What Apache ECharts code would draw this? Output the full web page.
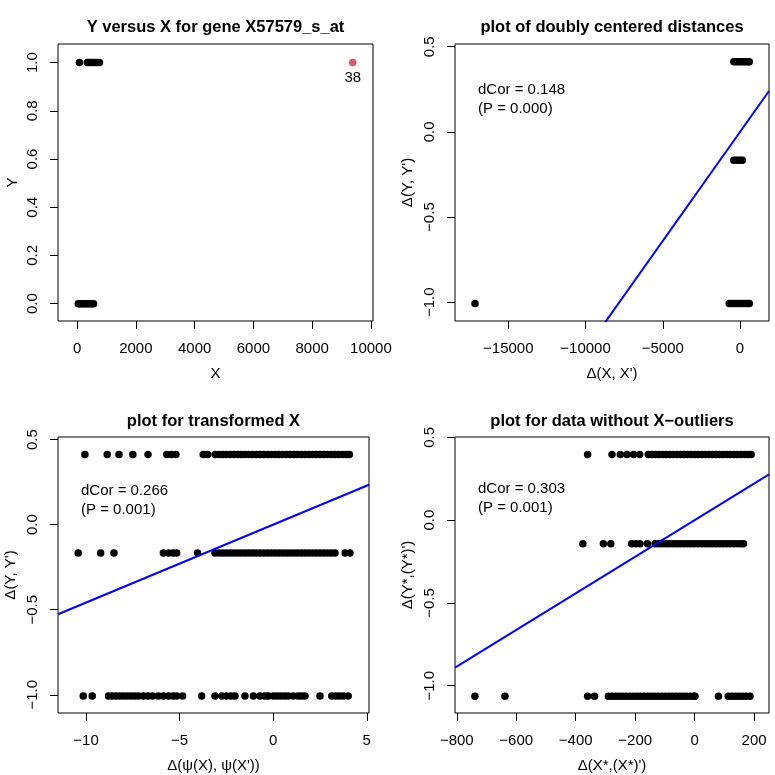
<!DOCTYPE html>
<html>
<head>
<meta charset="utf-8">
<script src="https://cdn.jsdelivr.net/npm/echarts@6/dist/echarts.min.js"></script>
<style>
  html, body { margin: 0; padding: 0; background: #fff; }
  #chart { width: 775px; height: 775px; }
</style>
</head>
<body>
<div id="chart"></div>
<script>
// panel 1: raw data, X values at Y = 1 and Y = 0, plus case 38
var p1High = [80, 350, 410, 470, 530, 600, 680, 760];
var p1Low = [40, 90, 140, 200, 260, 320, 380, 440, 500, 560];
var p1Outlier = [9380, 1];
var p1OutlierLabel = '38';

// doubly centered distances of Y (levels shared by panels 2 and 3)
var dyLevels = [0.412, -0.167, -1.007];

// panel 2: delta(X, X') per Y level
var p2Top = [-400, -250, -100, 50, 200, 350, 500, 600];
var p2Mid = [-400, -250, -100, 50, 150];
var p2Bot = [-17155, -700, -550, -400, -250, -100, 50, 200, 350, 500, 600];

// panel 3: delta(psi(X), psi(X')) per Y level
var p3Top = [-10.06, -8.87, -8.24, -7.5, -6.69, -5.69, -5.45, -5.2, -3.74, -3.5,
  -3.1, -2.9, -2.7, -2.5, -2.3, -2.1, -1.9, -1.7, -1.5, -1.3, -1.1, -0.9, -0.7, -0.5,
  -0.3, -0.1, 0.1, 0.3, 0.5, 0.7, 0.9, 1.1, 1.3, 1.5, 1.7, 1.9, 2.1, 2.3, 2.5, 2.7,
  2.9, 3.1, 3.3, 3.5, 3.7, 3.9, 4.07];
var p3Mid = [-10.42, -9.22, -8.51, -5.87, -5.6, -5.35, -5.16, -4.04,
  -3.11, -2.9, -2.7, -2.5, -2.3, -2.1, -1.9, -1.7, -1.5, -1.3, -1.1, -0.9, -0.7, -0.5,
  -0.3, -0.1, 0.1, 0.3, 0.5, 0.7, 0.9, 1.1, 1.3, 1.5, 1.7, 1.9, 2.1, 2.3, 2.5,
  2.7, 2.9, 3.1, 3.3, 3.85, 4.1];
var p3Bot = [-10.15, -9.67, -8.8, -8.6, -8.4, -8.2, -8.0, -7.8, -7.6, -7.4, -7.2,
  -6.94, -6.7, -6.45, -6.14, -5.87, -5.6, -5.35, -5.16, -4.84, -3.82, -3.11, -2.75,
  -2.5, -2.25, -2.04, -1.51, -1.06, -0.71, -0.45, -0.26, 0.0, 0.2, 0.4, 0.6, 0.8,
  1.07, 1.34, 1.52, 1.7, 2.5, 3.13, 3.35, 3.55, 3.75, 4.01];

// panel 4: data without X-outliers
var p4Levels = [0.397, -0.143, -1.064];
var p4Top = [-360, -278, -250, -228, -205, -185, -156, -144, -132, -120, -108, -96,
  -84, -72, -60, -48, -36, -24, -12, 0, 12, 24, 36, 48, 60, 72, 84, 96, 108, 120,
  132, 144, 156, 168, 180, 190];
var p4Mid = [-376, -307, -282, -212, -198, -184, -159, -133, -121, -109, -97, -85,
  -73, -61, -49, -37, -25, -13, -1, 11, 23, 35, 47, 59, 71, 83, 95, 107, 119, 131,
  143, 155, 164];
var p4Bot = [-739, -638, -360, -337, -290, -278, -266, -254, -242, -230, -218, -206,
  -194, -182, -170, -158, -146, -134, -122, -110, -98, -86, -74, -62, -50, -38, -26,
  -14, -2, 1, 80, 113, 125, 137, 149, 161, 173, 186];

// fitted line slopes (through origin) and dCor statistics
var slopes = [0.000128, 0.0458, 0.001105];
var dcorText = [['dCor = 0.148', '(P = 0.000)'], ['dCor = 0.266', '(P = 0.001)'], ['dCor = 0.303', '(P = 0.001)']];

var titles = ['Y versus X for gene X57579_s_at', 'plot of doubly centered distances',
  'plot for transformed X', 'plot for data without X\u2212outliers'];
var xNames = ['X', '\u0394(X, X\')', '\u0394(\u03c8(X), \u03c8(X\'))', '\u0394(X*,(X*)\')'];
var yNames = ['Y', '\u0394(Y, Y\')', '\u0394(Y, Y\')', '\u0394(Y*,(Y*)\')'];

var xTicks = [[0, 2000, 4000, 6000, 8000, 10000], [-15000, -10000, -5000, 0], [-10, -5, 0, 5],
  [-800, -600, -400, -200, 0, 200]];
var yTicks = [[0, 0.2, 0.4, 0.6, 0.8, 1.0], [-1, -0.5, 0, 0.5], [-1, -0.5, 0, 0.5], [-1, -0.5, 0, 0.5]];
var xLim = [[-650, 10070], [-18450, 1877], [-11.5, 5.12], [-806, 250]];
var yLim = [[-0.072, 1.077], [-1.11, 0.516], [-1.107, 0.515], [-1.165, 0.502]];

var FONT = '"Liberation Sans", Arial, Helvetica, sans-serif';
var grids = [
  { left: 58, top: 44, width: 315, height: 277 },
  { left: 455, top: 44, width: 314, height: 277 },
  { left: 58, top: 437, width: 311, height: 276 },
  { left: 455, top: 437, width: 314, height: 276 }
];

function fmt(dec) {
  return function (v) {
    var s = dec ? Number(v).toFixed(dec) : String(Math.round(v));
    return s.replace('-', '\u2212');
  };
}

function pts(xs, y) {
  return xs.map(function (x) { return [x, y]; });
}

var xAxis = [], yAxis = [];
for (var i = 0; i < 4; i++) {
  xAxis.push({
    type: 'value', gridIndex: i, min: xLim[i][0], max: xLim[i][1],
    name: xNames[i], nameLocation: 'middle', nameGap: 45,
    nameTextStyle: { fontFamily: FONT, fontSize: 15, color: '#000' },
    axisLine: { show: false, onZero: false },
    axisTick: { show: true, inside: false, length: 8, customValues: xTicks[i], lineStyle: { color: '#000' } },
    axisLabel: { customValues: xTicks[i], formatter: fmt(0), margin: 20, fontFamily: FONT, fontSize: 15, color: '#000' },
    splitLine: { show: false }
  });
  yAxis.push({
    type: 'value', gridIndex: i, min: yLim[i][0], max: yLim[i][1],
    name: yNames[i], nameLocation: 'middle', nameGap: i === 0 ? 38 : 40,
    nameTextStyle: { fontFamily: FONT, fontSize: 15, color: '#000' },
    axisLine: { show: false, onZero: false },
    axisTick: { show: true, inside: false, length: 8, customValues: yTicks[i], lineStyle: { color: '#000' } },
    axisLabel: { customValues: yTicks[i], formatter: fmt(1), rotate: 90, margin: 18, fontFamily: FONT, fontSize: 15, color: '#000' },
    splitLine: { show: false }
  });
}

function dots(idx, data) {
  return {
    type: 'scatter', xAxisIndex: idx, yAxisIndex: idx, data: data,
    symbol: 'circle', symbolSize: 7.5, itemStyle: { color: '#000', opacity: 1 }, silent: true
  };
}

function fitLine(idx, slope) {
  var a = xLim[idx][0], b = xLim[idx][1];
  return {
    type: 'line', xAxisIndex: idx, yAxisIndex: idx, showSymbol: false, clip: true,
    data: [[a, slope * a], [b, slope * b]],
    lineStyle: { color: '#0000ff', width: 2 }, silent: true
  };
}

var series = [
  dots(0, pts(p1High, 1).concat(pts(p1Low, 0))),
  {
    type: 'scatter', xAxisIndex: 0, yAxisIndex: 0, data: [p1Outlier],
    symbol: 'circle', symbolSize: 7.5, itemStyle: { color: '#DF536B', opacity: 1 }, silent: true,
    label: { show: true, formatter: p1OutlierLabel, position: 'bottom', distance: 4,
      fontFamily: FONT, fontSize: 15, color: '#000' }
  },
  fitLine(1, slopes[0]),
  dots(1, pts(p2Top, dyLevels[0]).concat(pts(p2Mid, dyLevels[1]), pts(p2Bot, dyLevels[2]))),
  fitLine(2, slopes[1]),
  dots(2, pts(p3Top, dyLevels[0]).concat(pts(p3Mid, dyLevels[1]), pts(p3Bot, dyLevels[2]))),
  fitLine(3, slopes[2]),
  dots(3, pts(p4Top, p4Levels[0]).concat(pts(p4Mid, p4Levels[1]), pts(p4Bot, p4Levels[2])))
];

var graphic = [];
var titlePos = [[215.5, 27], [612, 27], [213.5, 421], [612, 421]];
titles.forEach(function (t, k) {
  graphic.push({
    type: 'text', x: titlePos[k][0], y: titlePos[k][1],
    style: { text: t, fill: '#000', font: 'bold 16.5px ' + FONT, textAlign: 'center', textVerticalAlign: 'middle' }
  });
});
var notePos = [[478, 90], [81, 491], [478, 489]];
dcorText.forEach(function (lines, k) {
  lines.forEach(function (line, j) {
    graphic.push({
      type: 'text', x: notePos[k][0], y: notePos[k][1] + j * 19,
      style: { text: line, fill: '#000', font: '15px ' + FONT, textAlign: 'left', textVerticalAlign: 'middle' }
    });
  });
});

var chart = echarts.init(document.getElementById('chart'), null, { renderer: 'canvas' });
chart.setOption({
  animation: false,
  backgroundColor: '#fff',
  grid: grids.map(function (g) {
    return Object.assign({ show: true, borderColor: '#000', borderWidth: 1, backgroundColor: 'transparent',
      containLabel: false, outerBoundsMode: 'none' }, g);
  }),
  xAxis: xAxis,
  yAxis: yAxis,
  series: series,
  graphic: graphic
});
</script>
</body>
</html>
